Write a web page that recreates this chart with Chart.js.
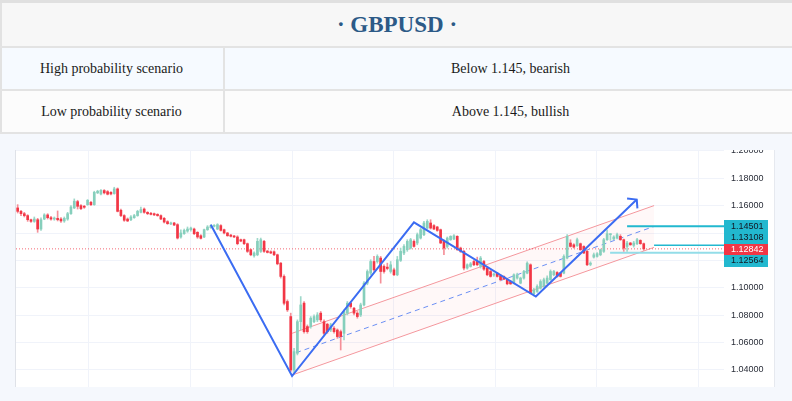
<!DOCTYPE html>
<html>
<head>
<meta charset="utf-8">
<script src="https://cdn.jsdelivr.net/npm/chart.js@4.4.1/dist/chart.umd.min.js"></script>
<style>
    html, body { margin: 0; padding: 0; }
    body {
        width: 792px; height: 401px; position: relative; overflow: hidden;
        background: #f5f8fd; font-family: "Liberation Serif", "Times New Roman", serif;
    }
    .band { position: absolute; left: 0; width: 792px; box-sizing: border-box; border-left: 2px solid #e2e2e2; }
    .rule { position: absolute; left: 0; width: 792px; height: 2px; background: #e3e3e3; }
    #topbar { position: absolute; left: 0; top: 0; width: 792px; height: 3px; background: #e0e0e0; }
    #head { top: 3px; height: 43px; background: #f7f7f7; text-align: center; line-height: 43px;
        font-size: 23px; font-weight: bold; color: #2c5a87; }
    .row { height: 41px; line-height: 41px; font-size: 14px; color: #1a1a1a; }
    .row .c1 { position: absolute; left: 0; width: 219px; text-align: center; }
    .row .c2 { position: absolute; left: 221px; width: 571px; text-align: center; border-left: 2px solid #e3e3e3; height: 41px; }
    #row1 { top: 48px; background: #f6faff; }
    #row2 { top: 91px; background: #fcfcfc; }
    #chartWrap {
        position: absolute; left: 15px; top: 150px; width: 760px; height: 237px; box-sizing: border-box;
        border-left: 1px solid #dfe2e8; border-right: 1px solid #e6e9ef; background: #ffffff;
    }
    #chartBox { position: relative; width: 758px; height: 237px; }
</style>
</head>
<body>
<div id="topbar"></div>
<div class="band" id="head">· GBPUSD ·</div>
<div class="rule" style="top:46px"></div>
<div class="band row" id="row1"><div class="c1">High probability scenario</div><div class="c2">Below 1.145, bearish</div></div>
<div class="rule" style="top:89px"></div>
<div class="band row" id="row2"><div class="c1">Low probability scenario</div><div class="c2">Above 1.145, bullish</div></div>
<div class="rule" style="top:132px"></div>
<div id="chartWrap"><div id="chartBox"><canvas id="chart"></canvas></div></div>

<script>
// daily candles
const opens = [
    1.1583, 1.1558, 1.1541, 1.1527, 1.1497, 1.1485, 1.1497, 1.1429, 1.1502, 1.1532,
    1.1512, 1.1502, 1.1507, 1.1502, 1.1488, 1.1502, 1.1541, 1.1583, 1.1629, 1.1600,
    1.1595, 1.1607, 1.1624, 1.1607, 1.1693, 1.1685, 1.1710, 1.1702, 1.1697, 1.1688,
    1.1722, 1.1566, 1.1527, 1.1502, 1.1497, 1.1512, 1.1527, 1.1551, 1.1575, 1.1551,
    1.1544, 1.1541, 1.1536, 1.1527, 1.1507, 1.1483, 1.1466, 1.1473, 1.1461, 1.1371,
    1.1395, 1.1414, 1.1424, 1.1429, 1.1405, 1.1380, 1.1371, 1.1424, 1.1439, 1.1449,
    1.1429, 1.1454, 1.1424, 1.1400, 1.1385, 1.1378, 1.1371, 1.1351, 1.1351, 1.1322,
    1.1278, 1.1234, 1.1241, 1.1266, 1.1339, 1.1268, 1.1263, 1.1263, 1.1241, 1.1180,
    1.1083, 1.0900, 1.0790, 1.0400, 1.0522, 1.0753, 1.0888, 1.0717, 1.0717, 1.0753,
    1.0766, 1.0815, 1.0753, 1.0734, 1.0692, 1.0705, 1.0692, 1.0680, 1.0668, 1.0815,
    1.0888, 1.0851, 1.0815, 1.0802, 1.0875, 1.1034, 1.1107, 1.1192, 1.1192, 1.1217,
    1.1156, 1.1151, 1.1119, 1.1131, 1.1095, 1.1200, 1.1254, 1.1278, 1.1290, 1.1339,
    1.1327, 1.1363, 1.1388, 1.1436, 1.1473, 1.1454, 1.1444, 1.1424, 1.1339, 1.1302,
    1.1351, 1.1356, 1.1376, 1.1290, 1.1266, 1.1144, 1.1156, 1.1192, 1.1192, 1.1156,
    1.1192, 1.1144, 1.1119, 1.1093, 1.1107, 1.1088, 1.1083, 1.1063, 1.1046, 1.1034,
    1.1071, 1.1034, 1.1071, 1.1107, 1.1168, 1.0956, 1.0973, 1.0997, 1.1010, 1.1034,
    1.1059, 1.1095, 1.1112, 1.1107, 1.1107, 1.1217, 1.1327, 1.1314, 1.1307, 1.1322,
    1.1302, 1.1266, 1.1171, 1.1224, 1.1229, 1.1241, 1.1266, 1.1351, 1.1388, 1.1356,
    1.1363, 1.1376, 1.1351, 1.1302, 1.1327, 1.1310, 1.1322, 1.1346, 1.1322
];
const highs = [
    1.1607, 1.1566, 1.1551, 1.1534, 1.1502, 1.1517, 1.1507, 1.1510, 1.1541, 1.1541,
    1.1522, 1.1517, 1.1561, 1.1512, 1.1517, 1.1551, 1.1600, 1.1649, 1.1639, 1.1607,
    1.1602, 1.1644, 1.1632, 1.1705, 1.1712, 1.1717, 1.1717, 1.1710, 1.1702, 1.1734,
    1.1729, 1.1575, 1.1534, 1.1510, 1.1527, 1.1536, 1.1566, 1.1590, 1.1583, 1.1556,
    1.1551, 1.1546, 1.1541, 1.1532, 1.1514, 1.1490, 1.1480, 1.1478, 1.1468, 1.1424,
    1.1429, 1.1444, 1.1444, 1.1436, 1.1410, 1.1388, 1.1429, 1.1454, 1.1461, 1.1461,
    1.1468, 1.1461, 1.1429, 1.1405, 1.1390, 1.1383, 1.1380, 1.1356, 1.1356, 1.1327,
    1.1283, 1.1263, 1.1361, 1.1363, 1.1346, 1.1273, 1.1270, 1.1270, 1.1246, 1.1185,
    1.1095, 1.0912, 1.0815, 1.0558, 1.0766, 1.0936, 1.0900, 1.0729, 1.0790, 1.0802,
    1.0819, 1.0827, 1.0766, 1.0741, 1.0741, 1.0717, 1.0700, 1.0692, 1.0839, 1.0900,
    1.0900, 1.0858, 1.0827, 1.0888, 1.1046, 1.1131, 1.1205, 1.1229, 1.1241, 1.1229,
    1.1168, 1.1180, 1.1192, 1.1144, 1.1229, 1.1290, 1.1315, 1.1351, 1.1361, 1.1351,
    1.1400, 1.1436, 1.1485, 1.1497, 1.1497, 1.1461, 1.1449, 1.1429, 1.1351, 1.1371,
    1.1380, 1.1388, 1.1380, 1.1297, 1.1273, 1.1175, 1.1185, 1.1200, 1.1224, 1.1229,
    1.1200, 1.1151, 1.1127, 1.1107, 1.1112, 1.1095, 1.1088, 1.1071, 1.1054, 1.1102,
    1.1107, 1.1078, 1.1127, 1.1190, 1.1175, 1.0997, 1.1022, 1.1059, 1.1071, 1.1088,
    1.1131, 1.1127, 1.1119, 1.1112, 1.1241, 1.1388, 1.1351, 1.1322, 1.1363, 1.1327,
    1.1307, 1.1273, 1.1190, 1.1254, 1.1258, 1.1283, 1.1361, 1.1424, 1.1395, 1.1380,
    1.1400, 1.1388, 1.1356, 1.1339, 1.1332, 1.1339, 1.1361, 1.1351, 1.1327
];
const lows = [
    1.1546, 1.1526, 1.1517, 1.1485, 1.1478, 1.1478, 1.1405, 1.1419, 1.1497, 1.1502,
    1.1493, 1.1493, 1.1488, 1.1478, 1.1478, 1.1493, 1.1536, 1.1578, 1.1575, 1.1571,
    1.1580, 1.1602, 1.1600, 1.1602, 1.1688, 1.1678, 1.1685, 1.1678, 1.1678, 1.1683,
    1.1554, 1.1519, 1.1485, 1.1483, 1.1490, 1.1507, 1.1522, 1.1546, 1.1544, 1.1534,
    1.1532, 1.1527, 1.1522, 1.1497, 1.1473, 1.1463, 1.1461, 1.1454, 1.1356, 1.1363,
    1.1390, 1.1405, 1.1414, 1.1388, 1.1361, 1.1356, 1.1366, 1.1419, 1.1434, 1.1444,
    1.1424, 1.1414, 1.1393, 1.1376, 1.1371, 1.1366, 1.1314, 1.1336, 1.1314, 1.1258,
    1.1234, 1.1224, 1.1234, 1.1258, 1.1258, 1.1254, 1.1249, 1.1234, 1.1168, 1.1071,
    1.0875, 1.0827, 1.0388, 1.0375, 1.0510, 1.0693, 1.0668, 1.0668, 1.0705, 1.0746,
    1.0753, 1.0753, 1.0656, 1.0668, 1.0680, 1.0668, 1.0631, 1.0546, 1.0619, 1.0802,
    1.0851, 1.0802, 1.0778, 1.0790, 1.0868, 1.1022, 1.1095, 1.1119, 1.1180, 1.1034,
    1.1107, 1.1131, 1.1107, 1.1088, 1.1088, 1.1192, 1.1241, 1.1266, 1.1283, 1.1297,
    1.1314, 1.1356, 1.1380, 1.1429, 1.1429, 1.1424, 1.1412, 1.1322, 1.1241, 1.1290,
    1.1346, 1.1351, 1.1273, 1.1258, 1.1131, 1.1136, 1.1151, 1.1161, 1.1161, 1.1144,
    1.1127, 1.1088, 1.1078, 1.1083, 1.1078, 1.1051, 1.1059, 1.1022, 1.1024, 1.1029,
    1.1063, 1.1029, 1.1063, 1.1102, 1.0956, 1.0941, 1.0966, 1.0990, 1.1005, 1.1029,
    1.1054, 1.1088, 1.1078, 1.1078, 1.1102, 1.1210, 1.1297, 1.1290, 1.1302, 1.1273,
    1.1249, 1.1161, 1.1161, 1.1217, 1.1224, 1.1234, 1.1258, 1.1346, 1.1346, 1.1351,
    1.1356, 1.1346, 1.1266, 1.1266, 1.1310, 1.1297, 1.1314, 1.1317, 1.1273
];
const closes = [
    1.1558, 1.1541, 1.1527, 1.1497, 1.1485, 1.1502, 1.1429, 1.1497, 1.1532, 1.1512,
    1.1502, 1.1507, 1.1497, 1.1488, 1.1507, 1.1541, 1.1590, 1.1632, 1.1595, 1.1578,
    1.1588, 1.1639, 1.1607, 1.1697, 1.1705, 1.1712, 1.1693, 1.1683, 1.1685, 1.1722,
    1.1558, 1.1527, 1.1493, 1.1488, 1.1517, 1.1527, 1.1558, 1.1571, 1.1551, 1.1541,
    1.1536, 1.1532, 1.1527, 1.1502, 1.1480, 1.1468, 1.1473, 1.1458, 1.1363, 1.1400,
    1.1419, 1.1429, 1.1436, 1.1395, 1.1371, 1.1361, 1.1424, 1.1444, 1.1454, 1.1454,
    1.1461, 1.1419, 1.1400, 1.1380, 1.1376, 1.1371, 1.1322, 1.1341, 1.1322, 1.1266,
    1.1241, 1.1254, 1.1339, 1.1351, 1.1266, 1.1258, 1.1254, 1.1241, 1.1175, 1.1083,
    1.0887, 1.0839, 1.0400, 1.0534, 1.0753, 1.0875, 1.0680, 1.0680, 1.0778, 1.0790,
    1.0802, 1.0766, 1.0668, 1.0680, 1.0729, 1.0680, 1.0644, 1.0644, 1.0827, 1.0888,
    1.0863, 1.0815, 1.0790, 1.0875, 1.1034, 1.1119, 1.1192, 1.1131, 1.1229, 1.1119,
    1.1119, 1.1141, 1.1168, 1.1095, 1.1205, 1.1266, 1.1302, 1.1339, 1.1351, 1.1302,
    1.1388, 1.1424, 1.1473, 1.1485, 1.1436, 1.1429, 1.1419, 1.1327, 1.1290, 1.1363,
    1.1376, 1.1380, 1.1278, 1.1266, 1.1144, 1.1168, 1.1175, 1.1168, 1.1168, 1.1217,
    1.1136, 1.1095, 1.1083, 1.1098, 1.1083, 1.1059, 1.1063, 1.1029, 1.1029, 1.1095,
    1.1095, 1.1071, 1.1119, 1.1180, 1.0961, 1.0985, 1.1010, 1.1046, 1.1059, 1.1071,
    1.1119, 1.1119, 1.1083, 1.1083, 1.1229, 1.1376, 1.1302, 1.1297, 1.1351, 1.1278,
    1.1254, 1.1168, 1.1180, 1.1241, 1.1249, 1.1278, 1.1351, 1.1395, 1.1388, 1.1371,
    1.1388, 1.1351, 1.1290, 1.1327, 1.1314, 1.1327, 1.1351, 1.1322, 1.12842
];

// drawn objects, as [candle index, price]
const zigzag = [[58.0, 1.1460], [82.4, 1.0356], [119.0, 1.1478], [155.6, 1.0936], [185.9, 1.1644]];
const arrowHead = [[183.0, 1.1651], [185.9, 1.1644], [186.1, 1.1580]];
const channelTop = [[82.4, 1.0668], [191.1, 1.1600]];
const channelBottom = [[82.4, 1.0363], [191.1, 1.1295]];
const channelMid = [[83.6, 1.0526], [191.1, 1.1448]];

const levelPrices = [1.14501, 1.13108, 1.12564];
const levelStarts = [183.0, 191.1, 177.9];
const lastPrice = 1.12842;

const yTickValues = [1.04, 1.06, 1.08, 1.10, 1.12, 1.14, 1.16, 1.18, 1.20];
const monthLines = [21.4, 51.9, 82.4, 112.9, 143.4, 173.9, 204.4];

const X_MIN = -0.5;
const X_MAX = 212.1;

const UP_BODY = "#86cfbc";
const UP_WICK = "#9fd8ca";
const DOWN_BODY = "#f23645";
const DOWN_WICK = "#f58f98";
const BLUE = "#3b6cf2";
const TEAL = "#22b8cf";
const GRID = "#f0f3fa";

const points = (pairs) => pairs.map(p => ({x: p[0], y: p[1]}));
const isUp = (i) => closes[i] >= opens[i];

const indexes = closes.map((c, i) => i);

function lineSet(data, color, width, order, extra) {
    return Object.assign({
        type: "line",
        data: data,
        borderColor: color,
        borderWidth: width,
        pointRadius: 0,
        fill: false,
        tension: 0,
        order: order
    }, extra || {});
}

const datasets = [
    lineSet(points(zigzag), BLUE, 2, 1),
    lineSet(points(arrowHead), BLUE, 2, 1),
    {
        type: "bar",
        data: indexes.map(i => ({x: i, y: [opens[i], closes[i]]})),
        backgroundColor: indexes.map(i => isUp(i) ? UP_BODY : DOWN_BODY),
        barThickness: 2,
        minBarLength: 1,
        grouped: false,
        order: 2
    },
    {
        type: "bar",
        data: indexes.map(i => ({x: i, y: [lows[i], highs[i]]})),
        backgroundColor: indexes.map(i => isUp(i) ? UP_WICK : DOWN_WICK),
        barThickness: 1,
        grouped: false,
        order: 3
    },
    lineSet(points([[levelStarts[0], levelPrices[0]], [X_MAX, levelPrices[0]]]), TEAL, 2, 4),
    lineSet(points([[levelStarts[1], levelPrices[1]], [X_MAX, levelPrices[1]]]), TEAL, 1.5, 4),
    lineSet(points([[levelStarts[2], levelPrices[2]], [X_MAX, levelPrices[2]]]), "#93dde8", 2, 4),
    lineSet(points([[X_MIN, lastPrice], [X_MAX, lastPrice]]), "rgba(242, 54, 69, 0.75)", 1, 5, {borderDash: [1, 2]}),
    lineSet(points(channelMid), "rgba(59, 108, 242, 0.75)", 1, 6, {borderDash: [5, 4]}),
    lineSet(points(channelTop), "#f4979d", 1, 6),
    lineSet(points(channelBottom), "#f4979d", 1, 7, {fill: 9, backgroundColor: "rgba(242, 54, 69, 0.035)"})
];

// price tags on the right axis, pushed apart so they do not overlap
const priceTags = {
    id: "priceTags",
    afterDraw(chart) {
        const ctx = chart.ctx;
        const y = chart.scales.y;
        const left = chart.chartArea.right;
        const h = 11.5;
        const tags = [{price: lastPrice, pos: y.getPixelForValue(lastPrice), bg: DOWN_BODY, fg: "#ffffff"}];

        let above = y.getPixelForValue(lastPrice);
        let below = above;
        levelPrices.slice().sort((a, b) => b - a).forEach(p => {
            const own = y.getPixelForValue(p);
            if (p > lastPrice) {
                tags.push({price: p, own: own, bg: TEAL, fg: "#131722"});
            } else {
                below = Math.max(own, below + h);
                tags.push({price: p, pos: below, bg: TEAL, fg: "#131722"});
            }
        });
        tags.filter(t => t.pos === undefined).sort((a, b) => a.price - b.price).forEach(t => {
            above = Math.min(t.own, above - h);
            t.pos = above;
        });

        ctx.save();
        ctx.font = "9px 'Liberation Sans', Arial, sans-serif";
        ctx.textBaseline = "middle";
        ctx.textAlign = "left";
        tags.forEach(t => {
            ctx.fillStyle = t.bg;
            ctx.fillRect(left, Math.round(t.pos - h / 2), 44, Math.round(h));
            ctx.fillStyle = t.fg;
            ctx.fillText(t.price.toFixed(5), left + 7, t.pos + 0.5);
        });
        ctx.restore();
    }
};

new Chart(document.getElementById("chart"), {
    type: "bar",
    data: {datasets: datasets},
    plugins: [priceTags],
    options: {
        animation: false,
        responsive: true,
        maintainAspectRatio: false,
        layout: {padding: 0},
        plugins: {
            legend: {display: false},
            tooltip: {enabled: false}
        },
        scales: {
            x: {
                type: "linear",
                min: X_MIN,
                max: X_MAX,
                offset: false,
                grid: {color: GRID, drawTicks: false, offset: false},
                border: {display: false},
                ticks: {display: false},
                afterBuildTicks: (scale) => { scale.ticks = monthLines.map(v => ({value: v})); },
                afterFit: (scale) => { scale.height = 0; }
            },
            y: {
                position: "right",
                min: 1.02759,
                max: 1.20059,
                grid: {color: GRID, drawTicks: false},
                border: {display: false},
                ticks: {
                    padding: 7,
                    color: "#2a2e39",
                    font: {family: "'Liberation Sans', Arial, sans-serif", size: 9},
                    callback: (v) => Number(v).toFixed(5)
                },
                afterBuildTicks: (scale) => { scale.ticks = yTickValues.map(v => ({value: v})); },
                afterFit: (scale) => {
                    scale.width = 50;
                    scale.paddingTop = 0;
                    scale.paddingBottom = 0;
                }
            }
        }
    }
});
</script>
</body>
</html>
